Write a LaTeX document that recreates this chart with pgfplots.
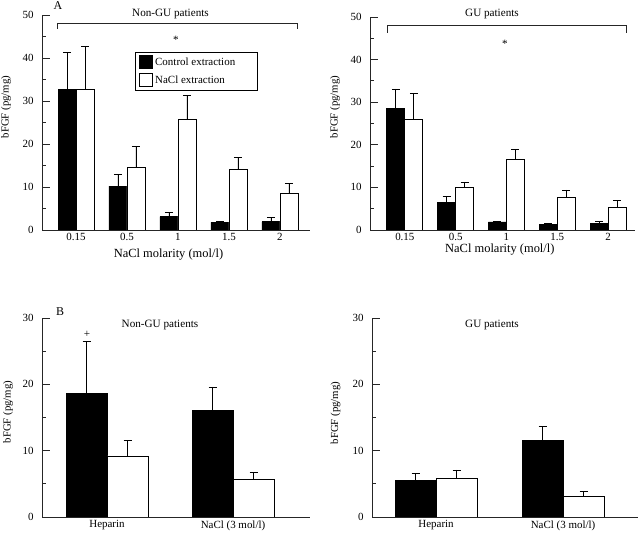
\documentclass[border=0pt]{standalone}
\usepackage{fontspec}
\setmainfont{Liberation Serif}
\usepackage{pgfplots}
\pgfplotsset{compat=1.18}
\pgfplotsset{
  panel/.style={
    scale only axis, anchor=south west,
    axis lines*=left,
    axis line style={-, line width=0.8bp, black!85},
    every tick/.style={line width=0.8bp, black!85},
    ybar=0pt, ymin=0,
    tick align=inside,
    major tick length=8bp, minor tick length=4bp,
    minor y tick num=1,
    xtick=data, major x tick style={draw=none},
    /pgf/number format/assume math mode=true,
    tick label style={font=\fontsize{11}{13}\selectfont},
    yticklabel style={xshift=-5bp},
    xlabel style={font=\fontsize{12.5}{14}\selectfont, anchor=center},
    ylabel style={font=\fontsize{10.8}{13}\selectfont, anchor=center, rotate=0},
    ylabel={bFGF (pg/mg)},
    error bars/y dir=plus, error bars/y explicit,
    error bars/error bar style={line width=0.8bp, black},
    error bars/error mark options={rotate=90, mark size=4bp, line width=0.8bp, black},
    legend image code/.code={\draw[#1,line width=0.8bp] (0bp,-6.5bp) rectangle (13bp,6.5bp);},
  },
  ctrl/.style={fill=black, draw=black, line width=0.8bp},
  nacl/.style={fill=white, draw=black, line width=0.8bp},
}
\begin{document}
\begin{tikzpicture}[font=\fontsize{11.2}{13}\selectfont]
\useasboundingbox (0,0) rectangle (640bp,533bp);
% Top left
\begin{axis}[panel, at={(42bp,303bp)}, width=268bp, height=215bp,
  xmin=-0.667, xmax=4.59, ymax=50, bar width=18bp,
  ytick={0,10,20,30,40,50},
  xticklabels={0.15,0.5,1,1.5,2},
  xlabel={NaCl molarity (mol/l)},
  xlabel style={at={(axis description cs:0.472,-0.116)}},
  ylabel style={at={(axis description cs:-0.134,0.572)}},
  legend style={at={(0.347,0.828)}, anchor=north west, draw=black, line width=0.8bp,
    font=\fontsize{11}{13}\selectfont, legend cell align=left, row sep=4bp,
    inner xsep=4bp, inner ysep=3bp},
]
\addplot[ctrl] coordinates {(0,32.7) +- (0,8.6) (1,10.2) +- (0,2.8) (2,3.1) +- (0,1.0) (3,1.8) +- (0,0.2) (4,1.9) +- (0,1.0)};
\addlegendentry{\makebox[96bp][l]{Control extraction}}
\addplot[nacl] coordinates {(0,32.7) +- (0,9.9) (1,14.5) +- (0,4.9) (2,25.8) +- (0,5.4) (3,14.1) +- (0,2.7) (4,8.4) +- (0,2.5)};
\addlegendentry{NaCl extraction}
\end{axis}
% Top right
\begin{axis}[panel, at={(370bp,303bp)}, width=265bp, height=213bp,
  xmin=-0.686, xmax=4.53, ymax=50, bar width=18bp,
  ytick={0,10,20,30,40,50},
  xticklabels={0.15,0.5,1,1.5,2},
  xlabel={NaCl molarity (mol/l)},
  xlabel style={at={(axis description cs:0.49,-0.09)}},
  ylabel style={at={(axis description cs:-0.132,0.577)}},
]
\addplot[ctrl] coordinates {(0,28.6) +- (0,4.5) (1,6.4) +- (0,1.4) (2,1.9) +- (0,0.2) (3,1.4) +- (0,0.2) (4,1.6) +- (0,0.4)};
\addplot[nacl] coordinates {(0,26.0) +- (0,6.0) (1,10.0) +- (0,1.1) (2,16.6) +- (0,2.4) (3,7.6) +- (0,1.8) (4,5.4) +- (0,1.5)};
\end{axis}
% Bottom left
\begin{axis}[panel, at={(42bp,16bp)}, width=268bp, height=199bp,
  xmin=-0.516, xmax=1.611, ymax=30, bar width=41bp,
  ytick={0,10,20,30},
  xticklabels={Heparin,NaCl (3 mol/l)},
  ylabel style={at={(axis description cs:-0.127,0.528)}},
]
\addplot[ctrl] coordinates {(0,18.6) +- (0,7.9) (1,16.1) +- (0,3.5)};
\addplot[nacl] coordinates {(0,9.2) +- (0,2.3) (1,5.7) +- (0,1.0)};
\end{axis}
% Bottom right
\begin{axis}[panel, at={(372bp,16bp)}, width=266bp, height=199bp,
  xmin=-0.504, xmax=1.59, ymax=30, bar width=41bp,
  ytick={0,10,20,30},
  xticklabels={Heparin,NaCl (3 mol/l)},
  ylabel style={at={(axis description cs:-0.137,0.523)}},
]
\addplot[ctrl] coordinates {(0,5.5) +- (0,1.0) (1,11.6) +- (0,2.0)};
\addplot[nacl] coordinates {(0,5.8) +- (0,1.3) (1,3.1) +- (0,0.8)};
\end{axis}
% annotations
\node[font=\fontsize{12}{14}\selectfont] at (58bp,527bp) {A};
\node at (170.5bp,519bp) {Non-GU patients};
\draw[line width=0.8bp, black!85] (57bp,504bp) -- (57bp,510bp) -- (297bp,510bp) -- (297bp,504bp);
\node at (176bp,493bp) {*};
\node at (492bp,519bp) {GU patients};
\draw[line width=0.8bp, black!85] (387bp,500bp) -- (387bp,508bp) -- (626bp,508bp) -- (626bp,500bp);
\node at (505bp,489bp) {*};
\node[font=\fontsize{12}{14}\selectfont] at (60bp,221bp) {B};
\node at (160bp,208bp) {Non-GU patients};
\node at (87bp,199bp) {+};
\node at (492bp,208bp) {GU patients};
\end{tikzpicture}
\end{document}
